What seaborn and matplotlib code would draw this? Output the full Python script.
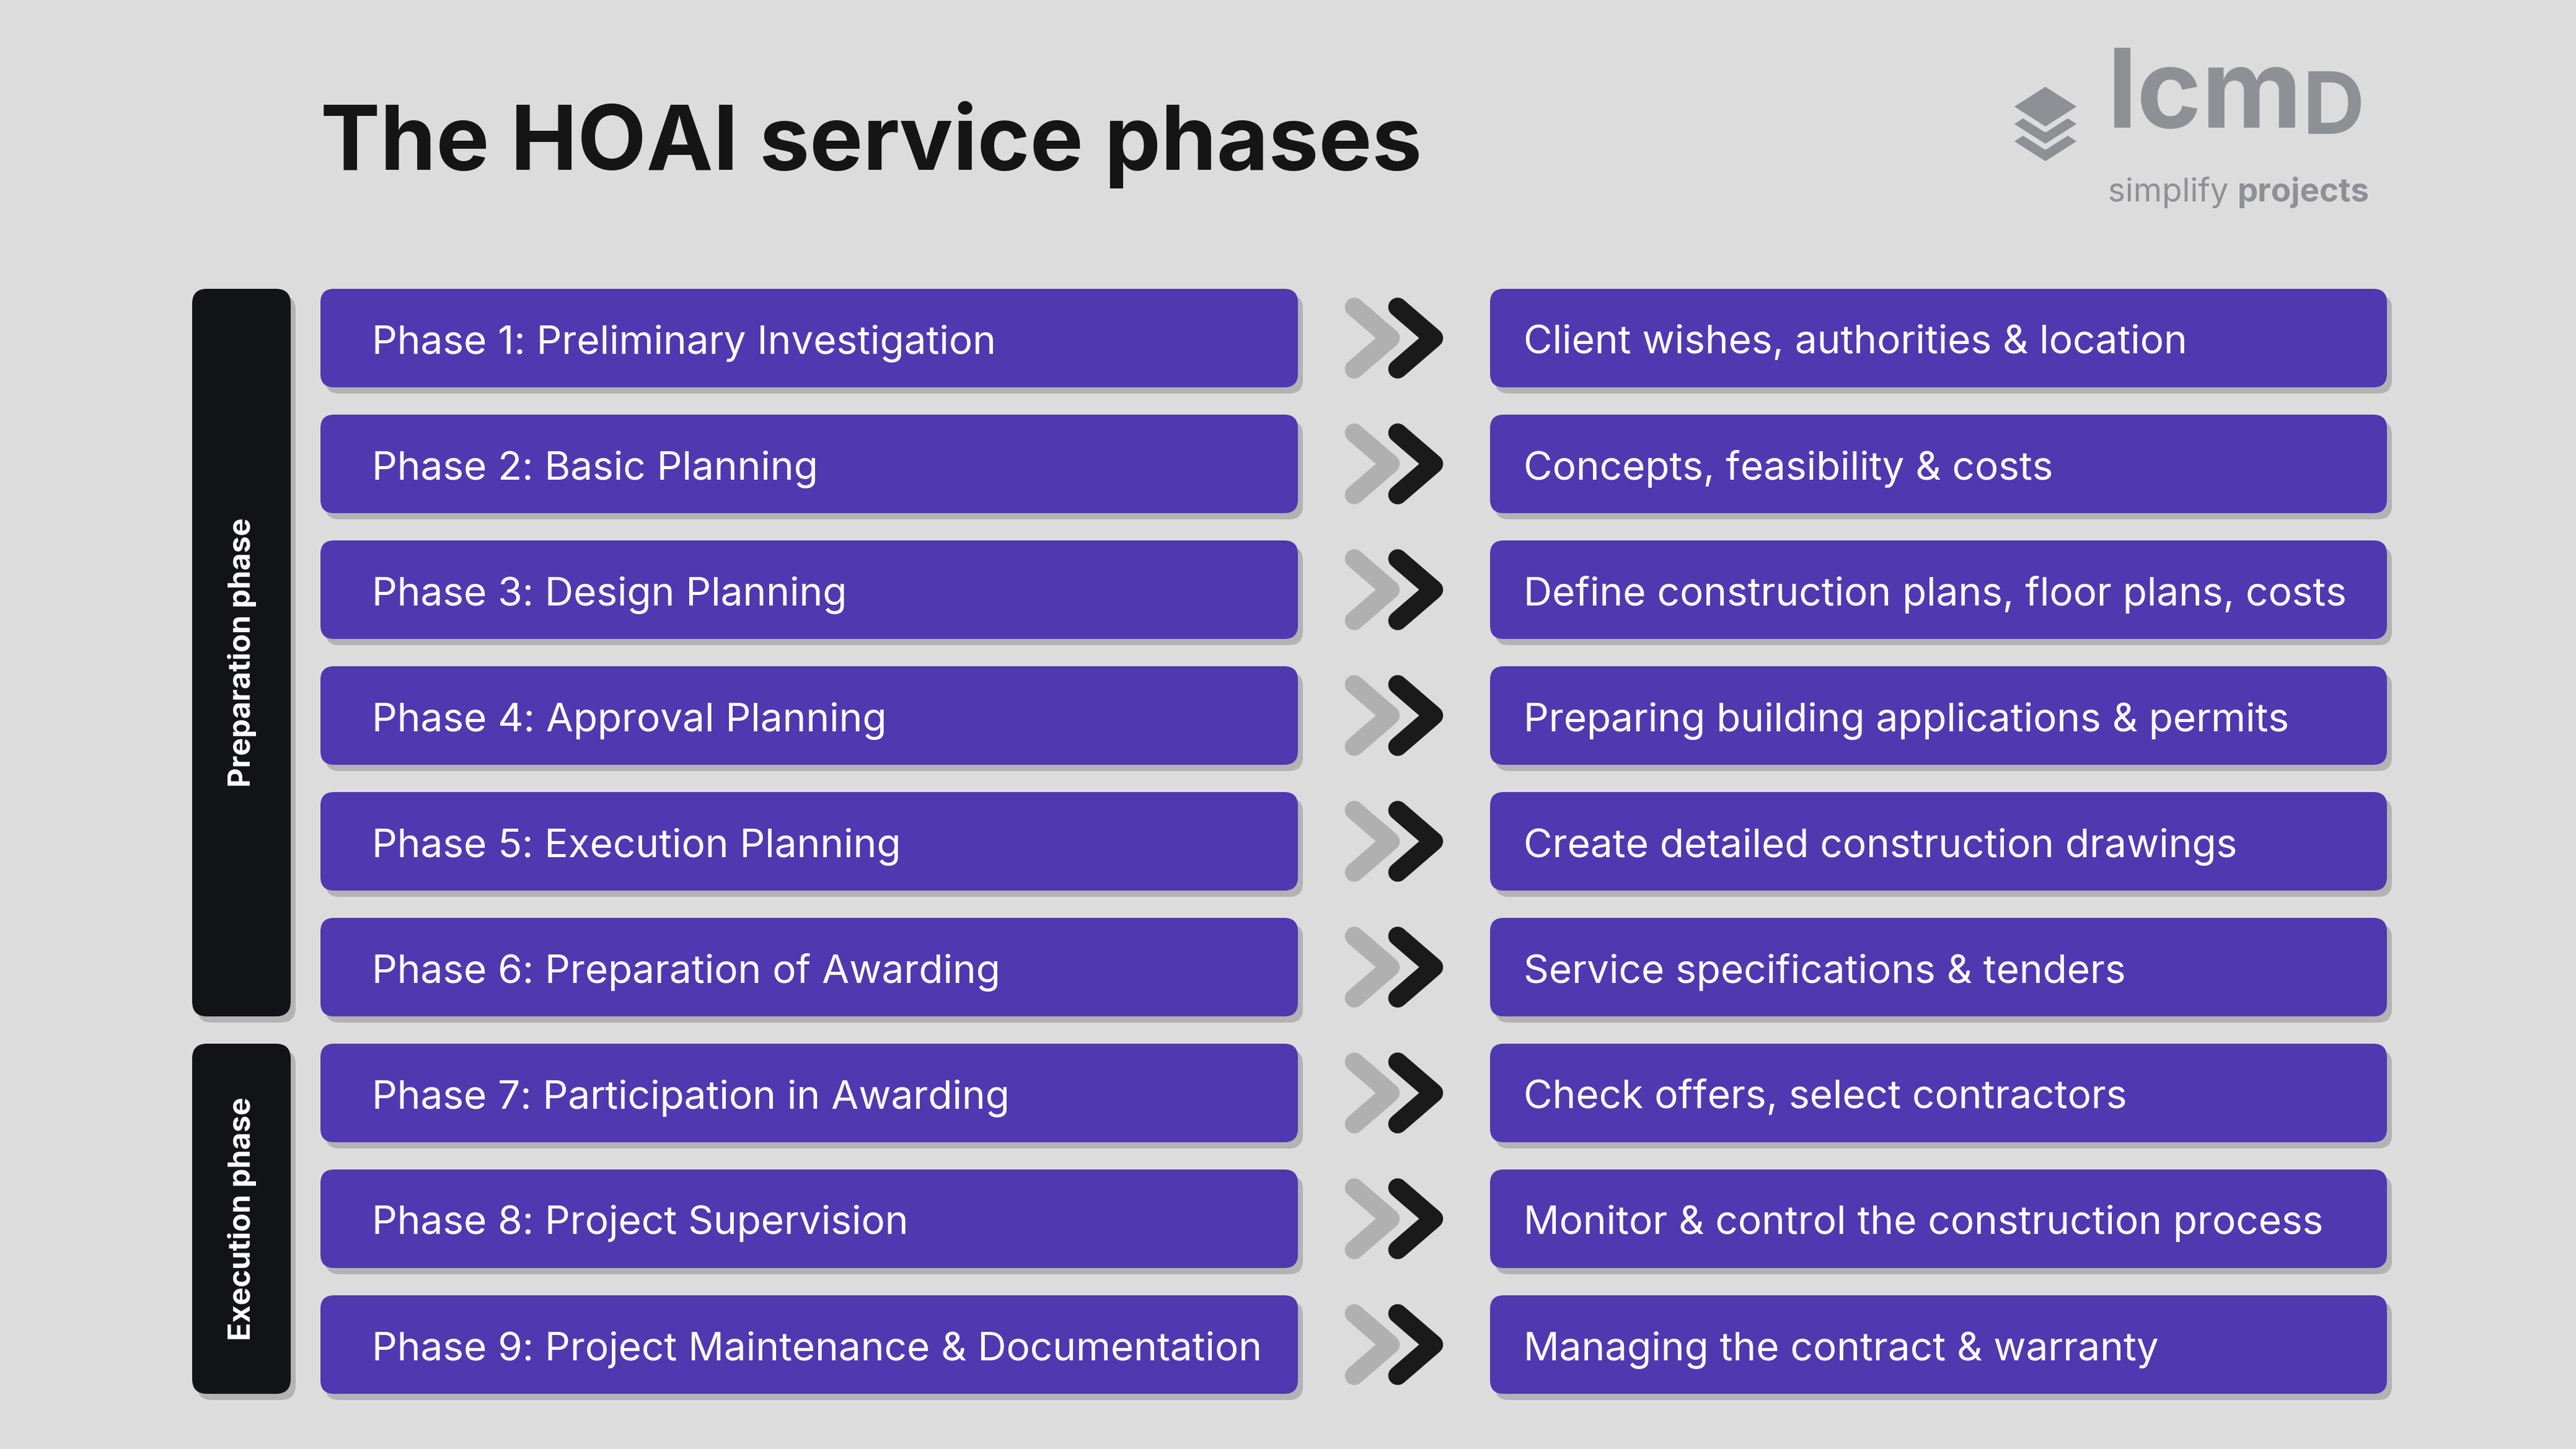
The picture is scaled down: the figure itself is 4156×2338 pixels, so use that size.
import matplotlib.pyplot as plt
import seaborn as sns
from matplotlib.patches import FancyBboxPatch, Polygon

sns.set_theme(style="white")
plt.rcParams['font.family'] = ['Inter', 'DejaVu Sans']

phases = ["Phase 1: Preliminary Investigation", "Phase 2: Basic Planning",
          "Phase 3: Design Planning", "Phase 4: Approval Planning",
          "Phase 5: Execution Planning", "Phase 6: Preparation of Awarding",
          "Phase 7: Participation in Awarding", "Phase 8: Project Supervision",
          "Phase 9: Project Maintenance & Documentation"]
tasks = ["Client wishes, authorities & location", "Concepts, feasibility & costs",
         "Define construction plans, floor plans, costs",
         "Preparing building applications & permits",
         "Create detailed construction drawings", "Service specifications & tenders",
         "Check offers, select contractors", "Monitor & control the construction process",
         "Managing the contract & warranty"]
groups = [("Preparation phase", 0, 5), ("Execution phase", 6, 8)]

W, H = 4156, 2338
BG = "#dcdcdc"
PURPLE = "#4f38b0"
fig = plt.figure(figsize=(W / 200, H / 200), dpi=200, facecolor=BG)
ax = fig.add_axes([0, 0, 1, 1])
ax.set_xlim(0, W)
ax.set_ylim(H, 0)
ax.axis("off")
ax.set_facecolor(BG)

top0, bh, pitch = 466, 159, 203


def box(x, y, w, h, color, r=22, shadow=True):
    if shadow:
        ax.add_patch(FancyBboxPatch((x + 8, y + 10), w, h, boxstyle=f"round,pad=0,rounding_size={r}",
                                    fc="#b3b3b3", ec="none", zorder=1))
    ax.add_patch(FancyBboxPatch((x, y), w, h, boxstyle=f"round,pad=0,rounding_size={r}",
                                fc=color, ec="none", zorder=2))


for i, (p, t) in enumerate(zip(phases, tasks)):
    y = top0 + i * pitch
    cy = y + bh / 2
    box(517, y, 1577, bh, PURPLE)
    box(2404, y, 1447, bh, PURPLE)
    ax.text(600, cy + 8, p, color="white", fontsize=23, va="center", ha="left", zorder=3)
    ax.text(2458, cy + 8, t, color="white", fontsize=23, va="center", ha="left", zorder=3)
    # double chevron
    for x0, col in [(2185, "#b0b0b0"), (2255, "#1a1a1a")]:
        ax.plot([x0, x0 + 58, x0], [cy - 50, cy, cy + 50], color=col, lw=11,
                solid_capstyle="round", solid_joinstyle="round", zorder=3)

for label, a, b in groups:
    y0 = top0 + a * pitch
    y1 = top0 + b * pitch + bh
    box(310, y0, 159, y1 - y0, "#121316", r=24)
    ax.text(390, (y0 + y1) / 2, label, color="white", fontsize=17.5, fontweight="bold",
            rotation=90, ha="center", va="center", zorder=3)

ax.text(517, 233, "The HOAI service phases", fontsize=52, fontweight="bold",
        color="#151515", va="center", ha="left")

# logo
LG = "#8d9196"
for dy in [0, 28, 56]:
    ax.add_patch(Polygon([[3300, 135 + dy], [3358, 172 + dy], [3300, 209 + dy], [3242, 172 + dy]],
                         closed=True, fc=LG, ec=BG, lw=3, joinstyle="round", zorder=3 - dy / 100))
ax.text(3400, 160, "lcm", fontsize=64, fontweight="bold", color=LG, va="center", ha="left")
ax.text(3715, 180, "D", fontsize=50, fontweight="bold", color=LG, va="center", ha="left")
ax.text(3610, 310, "simplify ", fontsize=19, color=LG, va="center", ha="right")
ax.text(3610, 310, "projects", fontsize=19, fontweight="bold", color=LG, va="center", ha="left")

fig.savefig("out.png", dpi=200, facecolor=BG)
